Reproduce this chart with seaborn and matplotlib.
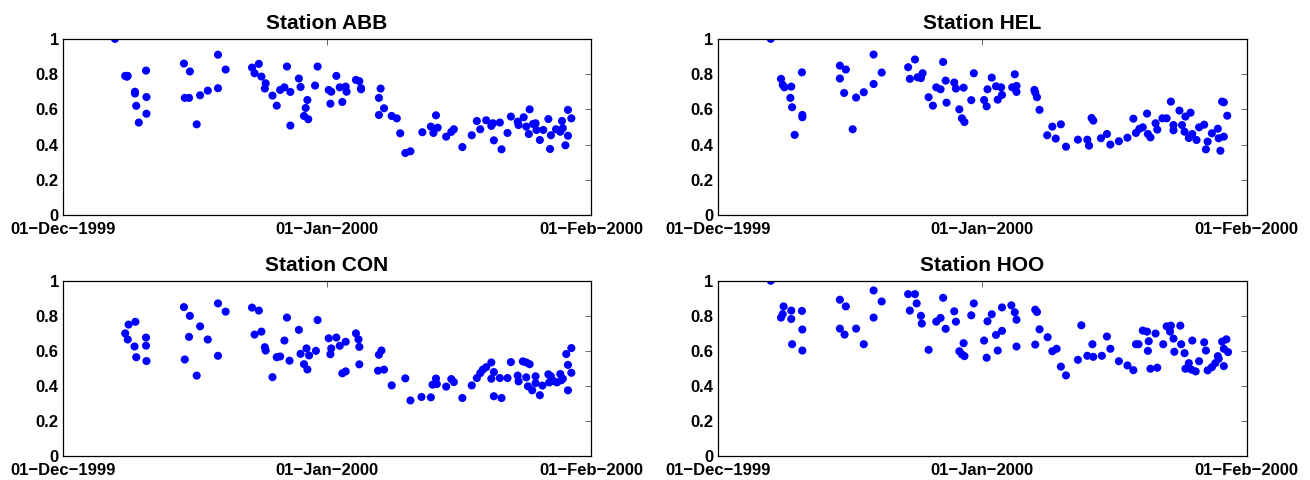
import numpy as np
import pandas as pd
import seaborn as sns
import matplotlib
matplotlib.use("Agg")
import matplotlib.pyplot as plt
import matplotlib.dates as mdates
from matplotlib.ticker import FuncFormatter

START = pd.Timestamp("1999-12-01")

# days after 01-Dec-1999 and the plotted value, per station
abb_days = [6.1,
            7.3, 7.5, 7.6, 9.75, 8.45, 8.45, 8.6, 8.9, 9.8, 9.8,
            14.2, 14.9, 14.3, 14.8, 15.7, 16.1, 17.0, 18.2, 18.2, 19.1,
            22.2, 22.5, 23.0, 23.3, 23.8, 23.7,
            24.6, 25.1, 25.5, 26.0, 26.3, 26.7, 26.7,
            27.7, 27.9, 28.7, 28.5, 28.3, 28.8, 29.9, 29.6,
            31.2, 31.5, 31.4, 32.1, 32.5, 33.2, 33.3, 32.8,
            34.4, 34.8, 35.0, 35.0, 37.3, 37.1, 37.7, 37.1,
            38.6, 39.2, 39.6, 40.2, 40.8, 42.2, 43.2, 43.5, 44.0, 43.8,
            45.0, 45.6, 45.9, 46.9, 48.0, 48.6, 49.0, 49.7, 50.3, 50.5, 50.6,
            51.3, 51.5, 52.2, 52.6, 53.4, 53.5,
            54.1, 54.4, 54.8, 54.7, 55.2, 55.5, 55.6,
            56.0, 56.4, 57.0, 57.3, 57.2, 57.9, 58.4, 58.7, 58.6,
            59.3, 59.3, 59.0, 59.7]
abb_vals = [1.0,
            0.79, 0.785, 0.79, 0.82, 0.70, 0.69, 0.62, 0.525, 0.67, 0.575,
            0.86, 0.815, 0.665, 0.665, 0.515, 0.68, 0.706, 0.91, 0.72, 0.826,
            0.837, 0.805, 0.858, 0.786, 0.748, 0.718,
            0.678, 0.621, 0.71, 0.725, 0.843, 0.699, 0.508,
            0.775, 0.727, 0.653, 0.608, 0.5625, 0.544, 0.843, 0.735,
            0.71, 0.70, 0.632, 0.79, 0.725, 0.729, 0.70, 0.642,
            0.767, 0.76, 0.72, 0.714, 0.718, 0.665, 0.606, 0.568,
            0.5625, 0.549, 0.464, 0.352, 0.362, 0.47, 0.502, 0.466, 0.496, 0.566,
            0.445, 0.472, 0.487, 0.386, 0.453, 0.534, 0.487, 0.538, 0.506, 0.521, 0.424,
            0.525, 0.373, 0.466, 0.559, 0.53, 0.511,
            0.555, 0.502, 0.60, 0.46, 0.517, 0.521, 0.483,
            0.426, 0.483, 0.545, 0.453, 0.375, 0.487, 0.473, 0.493, 0.534,
            0.597, 0.45, 0.396, 0.549]

hel_days = [6.2,
            7.4, 7.6, 7.8, 8.6, 8.5, 8.7, 9.0, 9.85, 9.9, 9.9,
            14.3, 14.3, 15.0, 14.8, 15.8, 16.2, 17.1, 18.25, 18.25, 19.2,
            22.3, 22.5, 23.1, 23.4, 23.8, 24.0,
            24.7, 25.2, 25.6, 26.1, 26.4, 26.7, 26.8,
            27.7, 27.9, 28.8, 28.3, 28.6, 28.9,
            29.7, 30.0, 31.2, 31.5, 31.6, 32.1, 32.6, 33.2, 33.3, 32.8,
            34.8, 34.5, 35.0, 35.0, 37.1, 37.2, 37.4, 37.7,
            38.6, 39.2, 39.6, 40.2, 40.8, 42.2, 43.3, 43.5, 43.8, 44.0,
            44.9, 45.6, 46.0, 47.0, 48.0, 48.7,
            49.0, 49.4, 49.8, 50.3, 50.4, 50.7,
            51.3, 51.5, 52.1, 52.6, 53.1, 53.4, 53.4,
            54.1, 54.4, 54.8, 55.4, 54.7, 55.2, 55.6, 56.1, 56.4, 57.0,
            57.4, 57.2, 57.9, 58.6, 58.7, 59.3, 58.9,
            59.1, 59.3, 59.7]
hel_vals = [1.0,
            0.773, 0.739, 0.725, 0.729, 0.665, 0.612, 0.455, 0.81, 0.568, 0.555,
            0.848, 0.775, 0.826, 0.693, 0.487, 0.667, 0.697, 0.911, 0.744, 0.809,
            0.839, 0.773, 0.883, 0.782, 0.777, 0.805,
            0.669, 0.621, 0.725, 0.714, 0.869, 0.763, 0.638,
            0.752, 0.718, 0.723, 0.60, 0.549, 0.528,
            0.652, 0.805, 0.653, 0.617, 0.714, 0.78, 0.731, 0.725, 0.682, 0.655,
            0.799, 0.725, 0.733, 0.699, 0.71, 0.695, 0.669, 0.597,
            0.453, 0.502, 0.434, 0.515, 0.388, 0.428, 0.428, 0.394, 0.551, 0.536,
            0.436, 0.46, 0.40, 0.419, 0.439, 0.547,
            0.466, 0.489, 0.498, 0.576, 0.46, 0.441,
            0.521, 0.485, 0.549, 0.549, 0.644, 0.511, 0.481,
            0.593, 0.511, 0.559, 0.581, 0.473, 0.4375, 0.46, 0.426, 0.498, 0.513,
            0.417, 0.373, 0.464, 0.49, 0.436, 0.445, 0.365,
            0.644, 0.64, 0.564]

con_days = [7.3, 7.6, 7.7, 8.5, 8.4, 8.6, 9.75, 9.75, 9.8,
            14.2, 14.9, 14.8, 14.3, 15.7, 16.1, 17.0, 18.2, 18.2, 19.1,
            22.2, 23.0, 22.5, 23.3, 23.7, 23.8,
            24.6, 25.1, 25.5, 26.0, 26.3, 26.6,
            27.7, 27.9, 28.6, 28.9, 28.3, 28.7,
            29.7, 29.9, 31.2, 31.5, 31.4, 32.1, 32.5, 33.2, 32.8, 33.2,
            34.4, 34.7, 34.8, 34.8, 37.1, 37.4, 37.0, 37.7,
            38.6, 40.2, 40.8, 42.1, 43.2,
            43.4, 43.8, 43.9, 45.0, 45.6, 45.9, 46.9, 48.0,
            48.6, 49.0, 49.3, 49.7, 50.3, 50.6, 50.3, 50.6,
            51.3, 52.2, 51.5, 52.6, 53.4, 53.5,
            54.0, 54.4, 54.8, 54.4, 54.6, 55.1, 55.5, 55.5, 56.0, 56.3,
            57.0, 57.3, 57.1, 57.6, 58.0, 58.4, 58.5, 58.7,
            59.1, 59.7, 59.3, 59.3, 59.7]
con_vals = [0.70, 0.665, 0.75, 0.766, 0.625, 0.564, 0.676, 0.63, 0.542,
            0.85, 0.80, 0.68, 0.551, 0.459, 0.74, 0.665, 0.871, 0.572, 0.824,
            0.847, 0.83, 0.693, 0.71, 0.621, 0.602,
            0.45, 0.564, 0.568, 0.659, 0.79, 0.544,
            0.72, 0.583, 0.614, 0.574, 0.524, 0.494,
            0.60, 0.776, 0.672, 0.614, 0.581, 0.676, 0.629, 0.652, 0.472, 0.483,
            0.70, 0.666, 0.623, 0.523, 0.578, 0.602, 0.487, 0.493,
            0.403, 0.443, 0.317, 0.337, 0.335,
            0.407, 0.442, 0.411, 0.396, 0.439, 0.422, 0.331, 0.403,
            0.445, 0.473, 0.493, 0.507, 0.534, 0.479, 0.441, 0.341,
            0.445, 0.445, 0.331, 0.536, 0.459, 0.426,
            0.54, 0.534, 0.524, 0.449, 0.398, 0.375, 0.455, 0.416, 0.347, 0.402,
            0.466, 0.455, 0.42, 0.428, 0.42, 0.468, 0.432, 0.441,
            0.582, 0.616, 0.52, 0.375, 0.475]

hoo_days = [6.2,
            7.4, 7.6, 7.7, 8.6, 8.6, 8.7, 9.85, 9.9, 9.9,
            14.3, 14.3, 15.0, 14.85, 16.2, 17.1, 18.25, 18.25, 19.2,
            22.3, 23.1, 22.5, 23.3, 23.8, 23.9,
            24.7, 25.6, 26.1, 26.4, 26.7,
            27.7, 27.9, 28.8, 28.3, 28.6, 28.9,
            29.7, 30.0, 31.2, 31.5, 31.6, 32.1, 32.6, 33.3, 32.8, 33.3,
            34.4, 34.8, 35.0, 35.0, 37.2, 37.4, 37.7, 37.2, 38.65,
            39.2, 39.7, 40.2, 40.8, 42.2, 42.6, 43.3, 43.9, 44.0,
            45.0, 45.6, 46.0, 47.0, 48.0, 48.7,
            49.0, 49.3, 49.8, 50.3, 50.5, 50.4, 50.7, 51.5, 51.3, 52.2,
            52.6, 53.1, 53.0, 54.2, 53.4, 53.5, 54.3, 54.7, 55.6,
            54.8, 55.2, 55.5, 56.0, 56.4, 57.0, 57.2, 57.4,
            57.9, 58.3, 58.6, 58.7, 59.3, 59.1, 59.6, 59.3, 59.8]
hoo_vals = [1.0,
            0.79, 0.81, 0.854, 0.83, 0.782, 0.638, 0.828, 0.722, 0.602,
            0.892, 0.727, 0.854, 0.693, 0.727, 0.638, 0.945, 0.79, 0.882,
            0.924, 0.924, 0.83, 0.871, 0.80, 0.756,
            0.606, 0.767, 0.788, 0.903, 0.726,
            0.826, 0.767, 0.644, 0.598, 0.58, 0.57,
            0.803, 0.871, 0.659, 0.561, 0.769, 0.809, 0.691, 0.714, 0.602, 0.848,
            0.86, 0.82, 0.778, 0.625, 0.835, 0.822, 0.723, 0.636, 0.678,
            0.598, 0.612, 0.51, 0.46, 0.549, 0.746, 0.572, 0.638, 0.566,
            0.572, 0.682, 0.612, 0.541, 0.517, 0.49,
            0.638, 0.638, 0.716, 0.71, 0.655, 0.60, 0.498, 0.504, 0.699, 0.638,
            0.74, 0.744, 0.71, 0.744, 0.67, 0.595, 0.638, 0.587, 0.659,
            0.498, 0.53, 0.493, 0.483, 0.541, 0.649, 0.602, 0.489,
            0.507, 0.53, 0.57, 0.555, 0.513, 0.653, 0.666, 0.612, 0.593]

stations = ["ABB", "HEL", "CON", "HOO"]
x_ticks = ["1999-12-01", "2000-01-01", "2000-02-01"]
y_ticks = [0, 0.2, 0.4, 0.6, 0.8, 1]


def date_label(x, pos):
    return mdates.num2date(x).strftime("%d-%b-%Y").replace("-", "\u2212")


def y_label(v, pos):
    return "%g" % v


def draw_station(fig, rect, name, days, vals):
    ax = fig.add_axes(rect)
    dates = START + pd.to_timedelta(np.array(days), unit="D")
    sns.scatterplot(x=dates, y=vals, ax=ax, color="#0000ff", s=34,
                    linewidth=0, edgecolor="none")

    ax.set_xlim(pd.Timestamp(x_ticks[0]), pd.Timestamp(x_ticks[-1]))
    ax.set_ylim(0, 1)
    ax.set_xticks([pd.Timestamp(t) for t in x_ticks])
    ax.set_yticks(y_ticks)
    ax.xaxis.set_major_formatter(FuncFormatter(date_label))
    ax.yaxis.set_major_formatter(FuncFormatter(y_label))
    ax.set_xlabel("")
    ax.set_ylabel("")

    ax.tick_params(direction="in", length=4, width=0.6, color="#555555",
                   labelcolor="black", top=True, right=True, labelsize=12)
    ax.tick_params(axis="x", pad=5)
    ax.tick_params(axis="y", pad=3)
    for lab in ax.get_xticklabels() + ax.get_yticklabels():
        lab.set_fontweight("bold")
    for sp in ax.spines.values():
        sp.set_visible(True)
        sp.set_linewidth(0.9)
        sp.set_color("black")

    ax.set_title("Station " + name, fontsize=15, fontweight="bold",
                 color="black", pad=7)
    ax.grid(False)
    return ax


def create_station_plot(output_path="out.png"):
    sns.set_style("white")
    plt.rcParams["font.family"] = ["Liberation Sans", "DejaVu Sans"]
    plt.rcParams["text.color"] = "black"

    fig = plt.figure(figsize=(13.1, 4.8), dpi=100)

    data = [abb_days, hel_days, con_days, hoo_days]
    values = [abb_vals, hel_vals, con_vals, hoo_vals]
    rects = [[0.0481, 0.552, 0.403, 0.367],
             [0.548, 0.552, 0.4038, 0.367],
             [0.0481, 0.05, 0.403, 0.365],
             [0.548, 0.05, 0.4038, 0.365]]

    for name, rect, d, v in zip(stations, rects, data, values):
        draw_station(fig, rect, name, d, v)

    fig.savefig(output_path, dpi=100)
    plt.close(fig)


if __name__ == "__main__":
    create_station_plot()
